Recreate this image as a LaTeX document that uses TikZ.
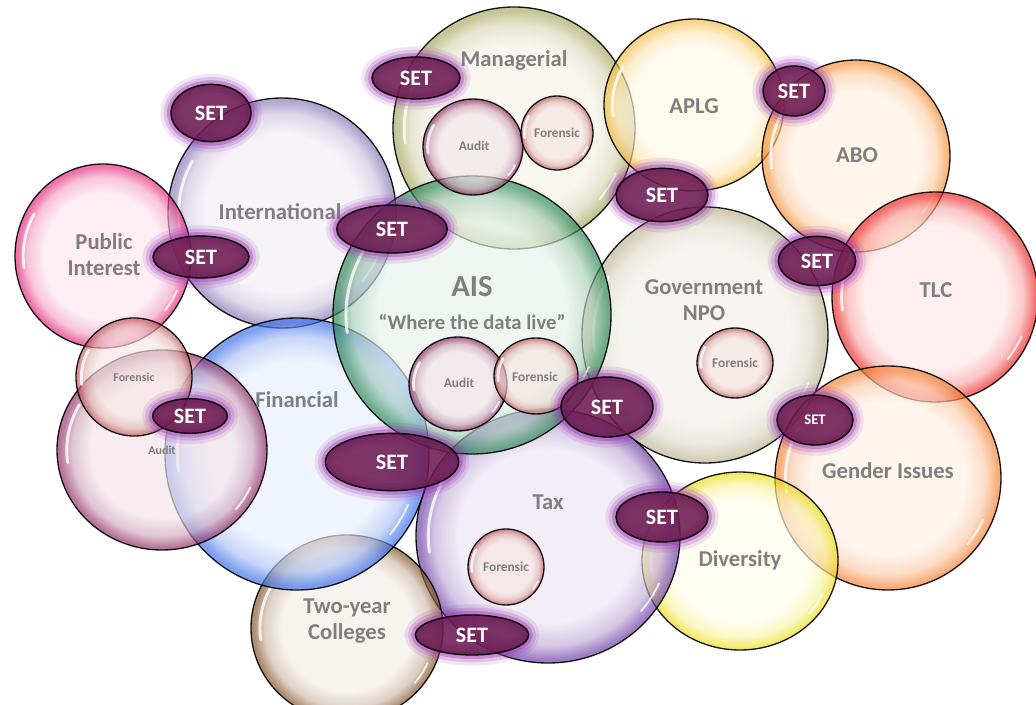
\documentclass[tikz,border=0pt]{standalone}
\usepackage{fontspec}
\setmainfont{Carlito}
\usetikzlibrary{shapes.geometric,calc}
\definecolor{lbl}{HTML}{7F7F7F}
\definecolor{setc}{HTML}{6C1B52}
\definecolor{glowc}{HTML}{9A2FB0}
\colorlet{rim}{black}\colorlet{core}{white}\colorlet{mid}{gray}
\pgfdeclareradialshading[rim,core,mid]{bubble}{\pgfpoint{0bp}{0bp}}{color(0bp)=(core); color(17bp)=(core); color(21.5bp)=(mid); color(24.3bp)=(rim); color(25bp)=(rim); color(50bp)=(rim)}
% colours
\definecolor{manR}{HTML}{A8A860}\definecolor{manC}{HTML}{F4F3E8}
\definecolor{aplR}{HTML}{F6C04A}\definecolor{aplC}{HTML}{FFF8E6}
\definecolor{aboR}{HTML}{F5913A}\definecolor{aboC}{HTML}{FFF0E2}
\definecolor{tlcR}{HTML}{EE2A2A}\definecolor{tlcC}{HTML}{FDE8E8}
\definecolor{govR}{HTML}{BDB693}\definecolor{govC}{HTML}{F2F1EC}
\definecolor{aisR}{HTML}{2F8A58}\definecolor{aisC}{HTML}{E7F2EC}
\definecolor{intR}{HTML}{8C7AB8}\definecolor{intC}{HTML}{F2EFF6}
\definecolor{pubR}{HTML}{E52C7C}\definecolor{pubC}{HTML}{FCE6EF}
\definecolor{forR}{HTML}{C05F5F}\definecolor{forC}{HTML}{F6E6E4}
\definecolor{audR}{HTML}{913266}\definecolor{audC}{HTML}{F3E5EA}
\definecolor{finR}{HTML}{3A6FEA}\definecolor{finC}{HTML}{E9EFFC}
\definecolor{taxR}{HTML}{6E3EA6}\definecolor{taxC}{HTML}{ECE6F3}
\definecolor{divR}{HTML}{EEE020}\definecolor{divC}{HTML}{FEFEEC}
\definecolor{genR}{HTML}{F58434}\definecolor{genC}{HTML}{FFF0E8}
\definecolor{twoR}{HTML}{86552B}\definecolor{twoC}{HTML}{F3EEE8}
\tikzset{
  bubble/.style={ellipse, inner sep=0pt, shading=bubble, fill opacity=0.66,
    draw=black, draw opacity=0.9, line width=1pt},
  hlt/.style={draw=white, line width=2.2pt, line cap=round, draw opacity=0.8},
  lab/.style={text=lbl, font=\bfseries\fontsize{17}{19.5}\selectfont, align=center, inner sep=0pt},
  sml/.style={text=lbl, font=\bfseries\fontsize{10}{12}\selectfont, inner sep=0pt},
  setbox/.style={ellipse, inner sep=0pt, draw=black, line width=1pt, fill=setc,
    fill opacity=0.88, text opacity=1, text=white,
    font=\bfseries\fontsize{16.5}{18}\selectfont,
    preaction={draw=glowc, line width=16pt, draw opacity=0.12},
    preaction={draw=glowc, line width=11pt, draw opacity=0.2},
    preaction={draw=glowc, line width=6pt, draw opacity=0.35}}
}
% name, x, y, rx, ry, rim, core
\newcommand\bub[7]{\colorlet{rim}{#6}\colorlet{core}{#7}\colorlet{mid}{#6!35!#7}%
  \node[bubble, minimum width={#4*1.5pt}, minimum height={#5*1.5pt}] (#1) at (#2,#3) {};
  \draw[hlt] (#1.center) ++(150:{#4*0.68pt} and {#5*0.68pt}) arc[start angle=150, end angle=188, x radius={#4*0.68pt}, y radius={#5*0.68pt}];
  \draw[hlt, line width=1.4pt] (#1.center) ++(-40:{#4*0.69pt} and {#5*0.69pt}) arc[start angle=-40, end angle=-24, x radius={#4*0.69pt}, y radius={#5*0.69pt}];}
\begin{document}
\begin{tikzpicture}[x=0.75pt, y=-0.75pt]
\fill[white] (0,0) rectangle (1036,705);
\useasboundingbox (0,0) rectangle (1036,705);
% big bubbles
\bub{intl}{282}{213}{114}{115}{intR}{intC}
\bub{pub}{103}{256}{88}{92}{pubR}{pubC}
\bub{man}{514}{128}{121}{121}{manR}{manC}
\bub{aplg}{694}{105}{90}{86}{aplR}{aplC}
\bub{abo}{856}{156}{94}{96}{aboR}{aboC}
\bub{tlc}{935}{297}{103}{105}{tlcR}{tlcC}
\bub{gov}{705}{335}{123}{128}{govR}{govC}
\bub{gen}{888}{478}{113}{112}{genR}{genC}
\bub{div}{740}{561}{98}{89}{divR}{divC}
\bub{tax}{548}{536}{132}{127}{taxR}{taxC}
\bub{two}{347}{628}{96}{93}{twoR}{twoC}
\bub{fin}{297}{454}{132}{136}{finR}{finC}
\bub{audl}{162}{450}{105}{100}{audR}{audC}
\bub{forl}{134}{377}{58}{59}{forR}{forC}
\bub{ais}{472}{315}{139}{139}{aisR}{aisC}
% small bubbles
\bub{mauD}{473}{147}{50}{48}{audR}{audC}
\bub{mfoR}{557}{133}{36}{37}{forR}{forC}
\bub{aauD}{458}{384}{49}{47}{audR}{audC}
\bub{afoR}{536}{376}{42}{38}{forR}{forC}
\bub{gfoR}{735}{363}{38}{35}{forR}{forC}
\bub{tfoR}{506}{567}{38}{38}{forR}{forC}
% labels
\node[lab] (tMan) at (514,60) {Managerial};
\node[lab] (tApl) at (694,106) {APLG};
\node[lab] (tAbo) at (857,155) {ABO};
\node[lab] (tTlc) at (936,290) {TLC};
\node[lab] (tGov) at (704,300) {Government\\NPO};
\node[lab, font=\bfseries\fontsize{23}{25}\selectfont] (tAis) at (472,287) {AIS};
\node[lab, font=\bfseries\fontsize{15.5}{18}\selectfont] (tWhere) at (472,322) {“Where the data live”};
\node[lab] (tInt) at (280,212) {International};
\node[lab] (tPub) at (104,255) {Public\\Interest};
\node[lab] (tFin) at (297,400) {Financial};
\node[lab] (tTax) at (548,502) {Tax};
\node[lab] (tDiv) at (740,560) {Diversity};
\node[lab] (tGen) at (888,471) {Gender Issues};
\node[lab] (tTwo) at (347,621) {Two-year\\Colleges};
\node[sml] (tMa) at (474,146) {Audit};
\node[sml] (tMf) at (557,133) {Forensic};
\node[sml] (tAa) at (459,383) {Audit};
\node[sml] (tAf) at (535,377) {Forensic};
\node[sml] (tGf) at (735,363) {Forensic};
\node[sml] (tTf) at (506,567) {Forensic};
\node[sml, font=\bfseries\fontsize{9}{11}\selectfont] (tLf) at (134,377) {Forensic};
\node[sml, font=\bfseries\fontsize{9}{11}\selectfont] (tLa) at (162,450) {Audit};
% SET ellipses
\node[setbox, minimum width=66pt, minimum height=31.5pt] (s1) at (416,78) {SET};
\node[setbox, minimum width=60pt, minimum height=43pt] (s2) at (211,113) {SET};
\node[setbox, minimum width=72pt, minimum height=31.5pt] (s3) at (201,257) {SET};
\node[setbox, minimum width=83pt, minimum height=36pt] (s4) at (392,229) {SET};
\node[setbox, minimum width=69pt, minimum height=40pt] (s5) at (662,195) {SET};
\node[setbox, minimum width=46.5pt, minimum height=37.5pt] (s6) at (794,91) {SET};
\node[setbox, minimum width=58pt, minimum height=37pt] (s7) at (817,261) {SET};
\node[setbox, minimum width=56pt, minimum height=26pt] (s8) at (190,416) {SET};
\node[setbox, minimum width=69pt, minimum height=45pt] (s9) at (607,407) {SET};
\node[setbox, minimum width=100pt, minimum height=43pt] (s10) at (392,462) {SET};
\node[setbox, minimum width=57pt, minimum height=37.5pt, font=\bfseries\fontsize{11}{13}\selectfont] (s11) at (815,420) {SET};
\node[setbox, minimum width=69pt, minimum height=37.5pt] (s12) at (662,517) {SET};
\node[setbox, minimum width=85pt, minimum height=30pt] (s13) at (472,635) {SET};
\end{tikzpicture}
\end{document}
